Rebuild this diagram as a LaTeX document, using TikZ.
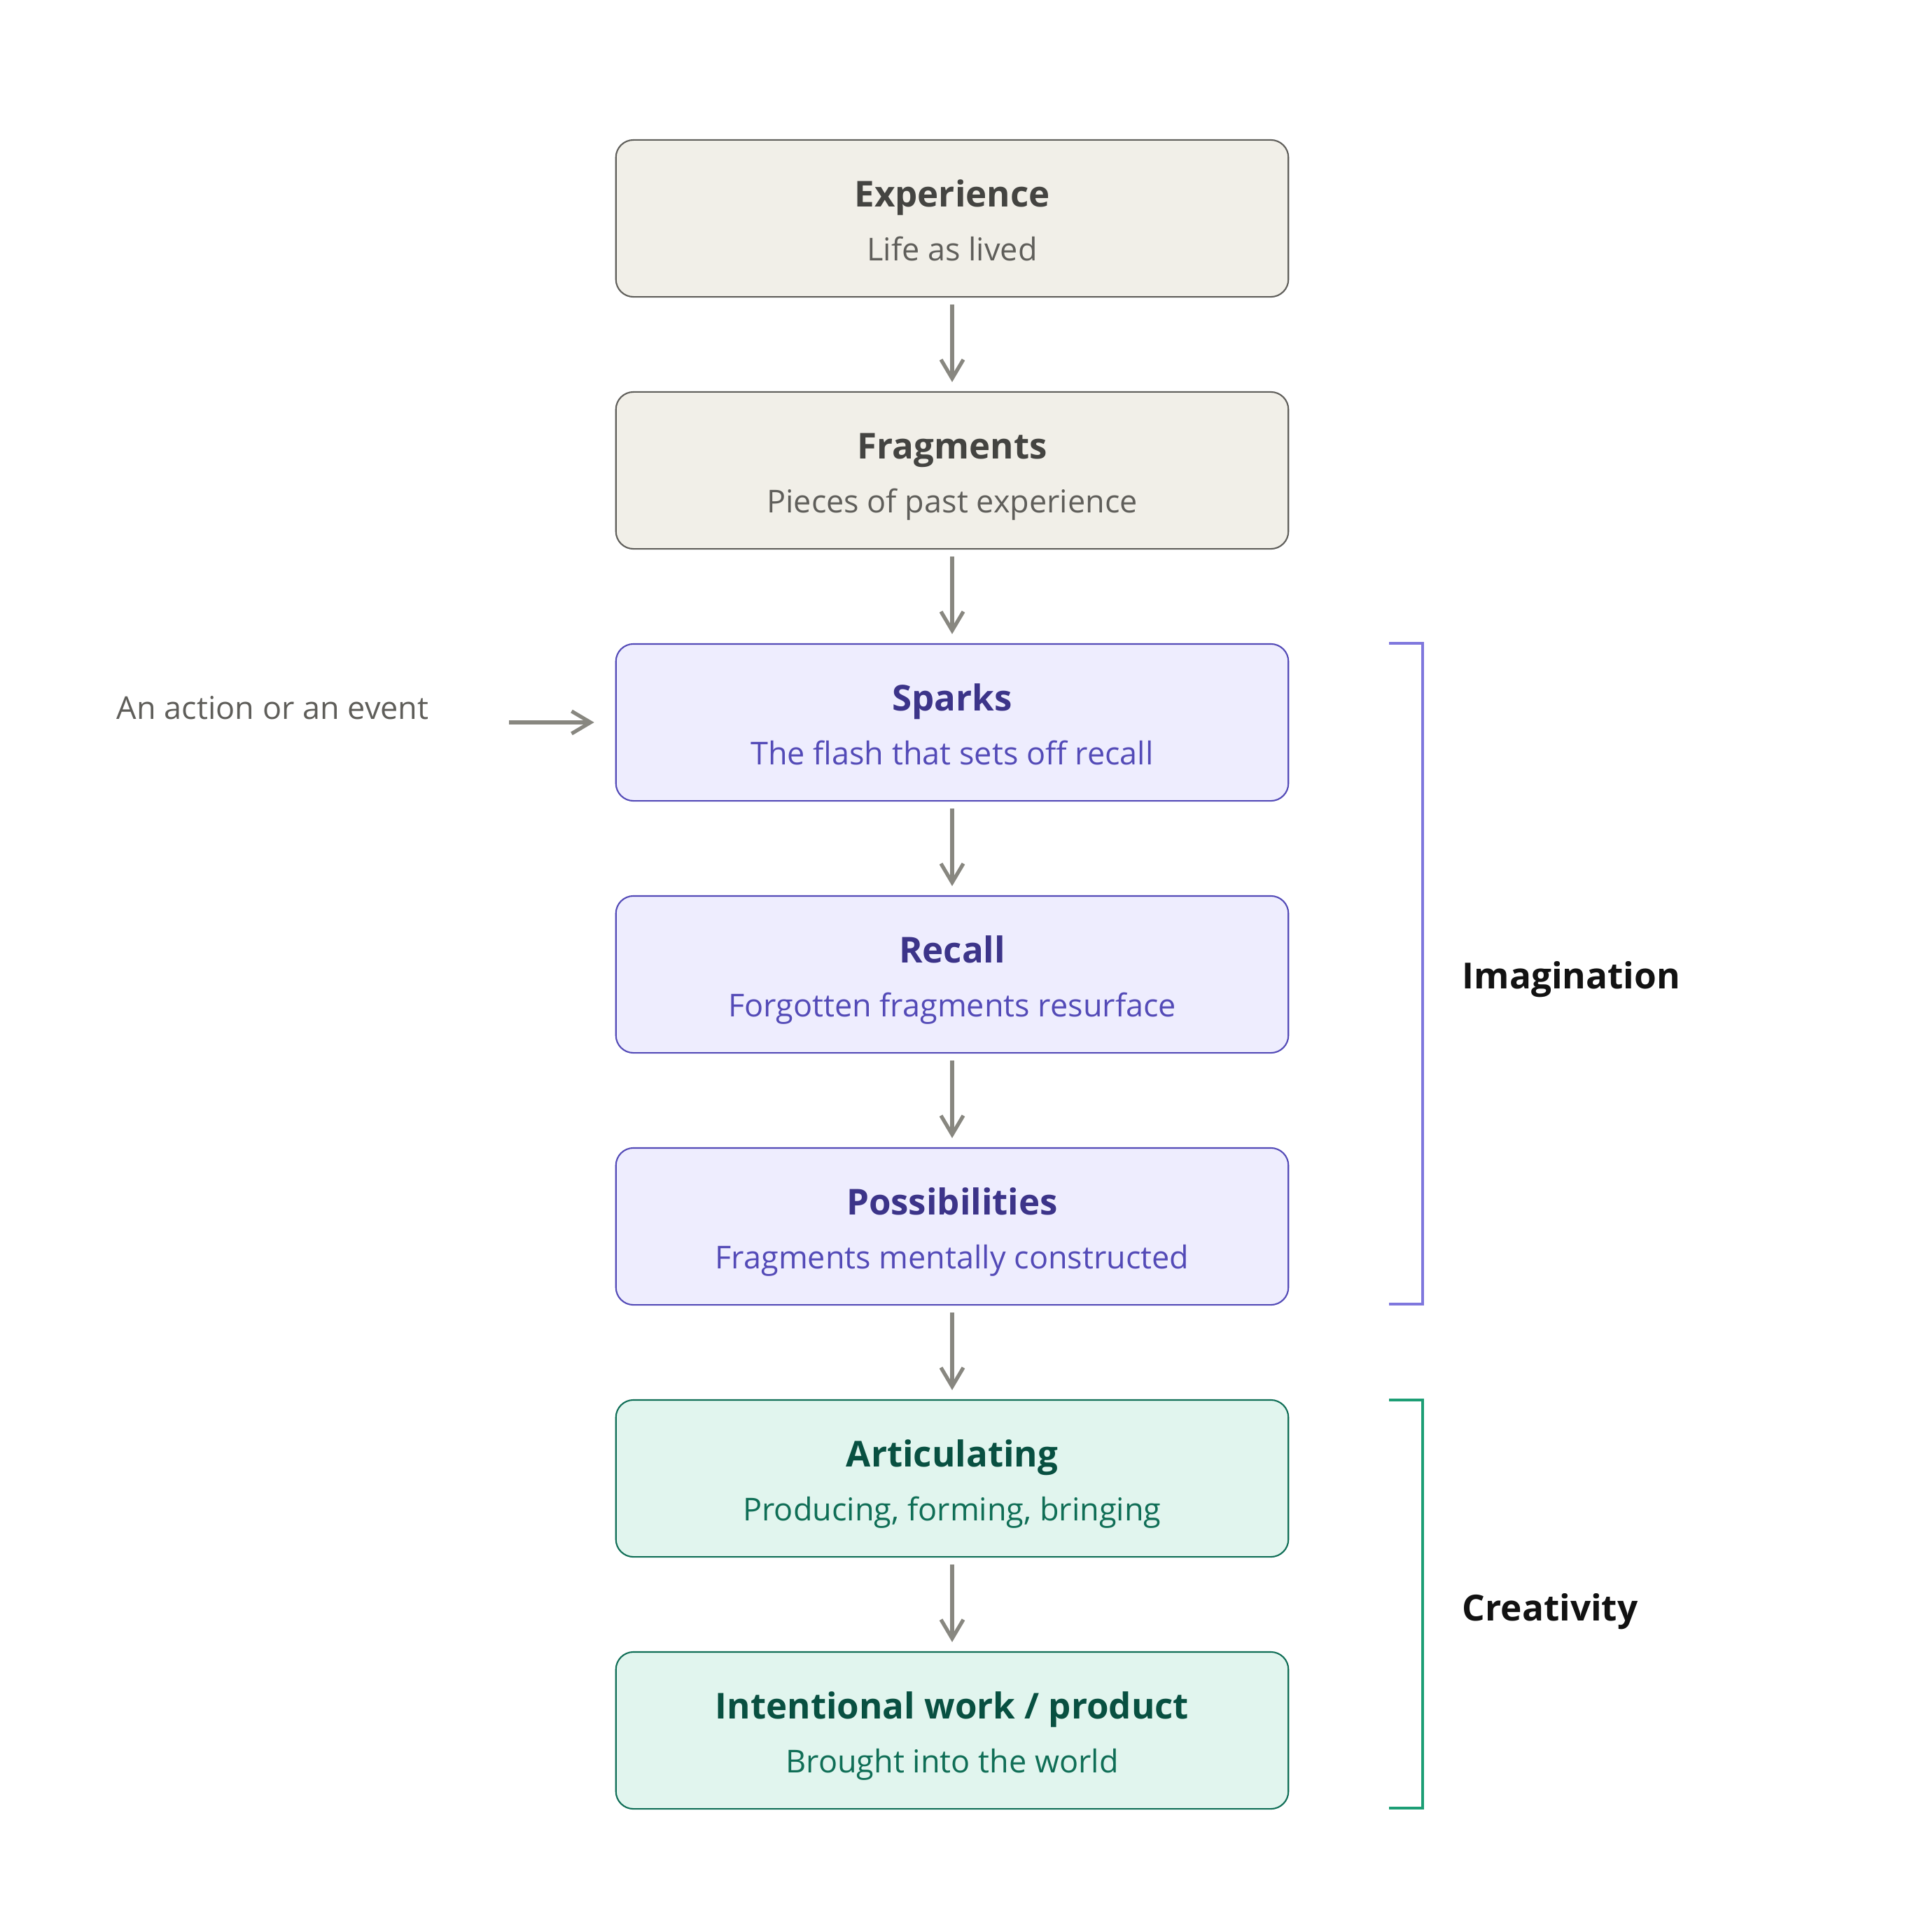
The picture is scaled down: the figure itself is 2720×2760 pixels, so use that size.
\documentclass[tikz,border=0pt]{standalone}
\usepackage{fontspec}
\setmainfont{Open Sans}
\usetikzlibrary{arrows.meta}
\definecolor{gfill}{HTML}{F1EFE8}
\definecolor{gdraw}{HTML}{5F5E5A}
\definecolor{gtitle}{HTML}{444441}
\definecolor{gsub}{HTML}{5F5E5A}
\definecolor{pfill}{HTML}{EEEDFE}
\definecolor{pdraw}{HTML}{534AB7}
\definecolor{ptitle}{HTML}{3C3489}
\definecolor{psub}{HTML}{534AB7}
\definecolor{nfill}{HTML}{E1F5EE}
\definecolor{ndraw}{HTML}{0F6E56}
\definecolor{ntitle}{HTML}{085041}
\definecolor{nsub}{HTML}{0F6E56}
\definecolor{arrowc}{HTML}{888780}
\definecolor{pbrack}{HTML}{7F77DD}
\definecolor{nbrack}{HTML}{1D9E75}
\begin{document}
\begin{tikzpicture}[x=0.01cm,y=-0.01cm,
  box/.style={draw, rounded corners=0.25cm, minimum width=9.6cm, minimum height=2.24cm, line width=0.6pt, inner sep=0pt},
  gbox/.style={box, draw=gdraw, fill=gfill},
  pbox/.style={box, draw=pdraw, fill=pfill},
  nbox/.style={box, draw=ndraw, fill=nfill},
  ttl/.style={font=\bfseries\fontsize{14.5}{17}\selectfont, anchor=base, inner sep=0pt},
  sub/.style={font=\fontsize{12.8}{15}\selectfont, anchor=base, inner sep=0pt},
  flow/.style={draw=arrowc, line width=1.5pt, -{Straight Barb[length=0.27cm,width=0.32cm,line width=1.5pt]}},
  brack/.style={line width=1.14pt},
  side/.style={font=\bfseries\fontsize{14.6}{18}\selectfont, anchor=base west, inner sep=0pt, text=black!93}
]
\useasboundingbox (0,0) rectangle (2720,2760);

\node[gbox] (exp) at (1360,312) {};
\node[ttl, text=gtitle] (expt) at (1360,295) {Experience};
\node[sub, text=gsub] (exps) at (1360,372) {Life as lived};

\node[gbox] (frag) at (1360,672) {};
\node[ttl, text=gtitle] (fragt) at (1360,655) {Fragments};
\node[sub, text=gsub] (frags) at (1360,732) {Pieces of past experience};

\node[pbox] (spark) at (1360,1032) {};
\node[ttl, text=ptitle] (sparkt) at (1360,1015) {Sparks};
\node[sub, text=psub] (sparks) at (1360,1092) {The flash that sets off recall};

\node[pbox] (recall) at (1360,1392) {};
\node[ttl, text=ptitle] (recallt) at (1360,1375) {Recall};
\node[sub, text=psub] (recalls) at (1360,1452) {Forgotten fragments resurface};

\node[pbox] (poss) at (1360,1752) {};
\node[ttl, text=ptitle] (posst) at (1360,1735) {Possibilities};
\node[sub, text=psub] (posss) at (1360,1812) {Fragments mentally constructed};

\node[nbox] (art) at (1360,2112) {};
\node[ttl, text=ntitle] (artt) at (1360,2095) {Articulating};
\node[sub, text=nsub] (arts) at (1360,2172) {Producing, forming, bringing};

\node[nbox] (work) at (1360,2472) {};
\node[ttl, text=ntitle] (workt) at (1360,2455) {Intentional work / product};
\node[sub, text=nsub] (works) at (1360,2532) {Brought into the world};

\draw[flow, shorten <=0.1cm, shorten >=0.13cm] (exp) -- (frag);
\draw[flow, shorten <=0.1cm, shorten >=0.13cm] (frag) -- (spark);
\draw[flow, shorten <=0.1cm, shorten >=0.13cm] (spark) -- (recall);
\draw[flow, shorten <=0.1cm, shorten >=0.13cm] (recall) -- (poss);
\draw[flow, shorten <=0.1cm, shorten >=0.13cm] (poss) -- (art);
\draw[flow, shorten <=0.1cm, shorten >=0.13cm] (art) -- (work);

\node[sub, anchor=base east, text=gsub] (act) at (613,1027) {An action or an event};
\coordinate (actend) at (727,1032);
\draw[flow, shorten >=0.3cm] (actend) -- (spark.west);

\draw[brack, pbrack] (1984,919) -- (2032,919) -- (2032,1863) -- (1984,1863);
\draw[brack, nbrack] (1984,2000) -- (2032,2000) -- (2032,2583) -- (1984,2583);
\node[side] (imag) at (2088,1412) {Imagination};
\node[side] (crea) at (2088,2315) {Creativity};
\end{tikzpicture}
\end{document}
